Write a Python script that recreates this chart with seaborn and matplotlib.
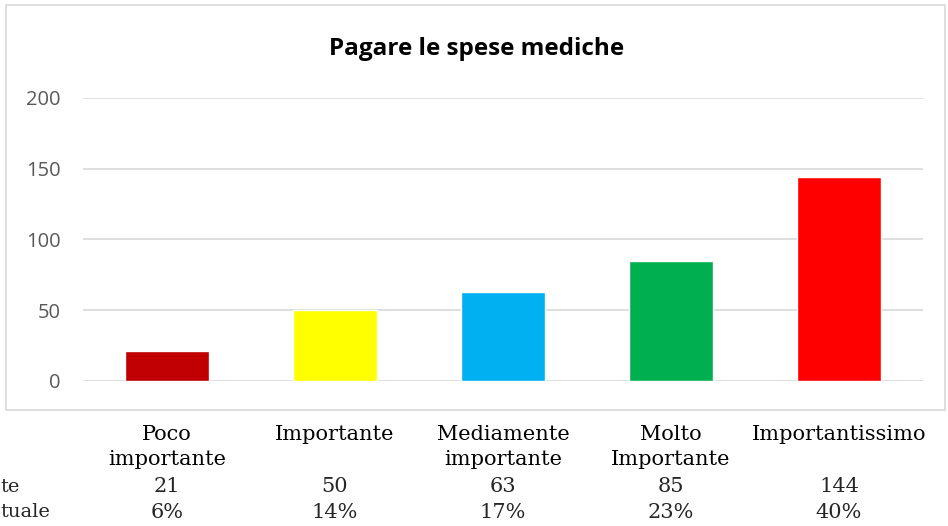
import matplotlib
matplotlib.use("Agg")
import matplotlib.pyplot as plt
import matplotlib.transforms as mtransforms
from matplotlib.patches import Rectangle
import seaborn as sns
import pandas as pd

categorie = ["Poco\nimportante", "Importante", "Mediamente\nimportante",
             "Molto\nImportante", "Importantissimo"]
valori = [21, 50, 63, 85, 144]
percentuali = ["6%", "14%", "17%", "23%", "40%"]
colori = ["#C00000", "#FFFF00", "#00B0F0", "#00B050", "#FF0000"]
righe = ["te", "tuale"]

df = pd.DataFrame({"categoria": categorie, "valore": valori})

sns.set_style("white")
fig = plt.figure(figsize=(9.48, 5.26), dpi=100)

# cornice del grafico
fig.patches.append(Rectangle((0.006, 0.221), 0.991, 0.769, transform=fig.transFigure,
                             fill=False, edgecolor="#D9D9D9", linewidth=1.2))

ax = fig.add_axes([0.0876, 0.2757, 0.886, 0.538])
sns.barplot(data=df, x="categoria", y="valore", hue="categoria",
            palette=colori, legend=False, width=0.5, saturation=1, ax=ax)

ax.set_ylim(0, 200)
ax.set_xlim(-0.5, 4.5)
ax.set_yticks([0, 50, 100, 150, 200])
ax.yaxis.grid(True, color="#D9D9D9", linewidth=1.2)
ax.set_axisbelow(True)
for s in ax.spines.values():
    s.set_visible(False)
ax.tick_params(axis="y", length=0, pad=16, labelsize=14.5, labelcolor="#595959")
for t in ax.get_yticklabels():
    t.set_fontfamily("Open Sans")
ax.set_xticks([])
ax.set_xlabel("")
ax.set_ylabel("")

fig.text(477 / 948, 1 - 49 / 526, "Pagare le spese mediche", ha="center", va="center",
         fontsize=17.5, fontweight="bold", family="Open Sans", color="black")

# tabella dati sotto il grafico
trans = mtransforms.blended_transform_factory(ax.transData, fig.transFigure)
serif = "DejaVu Serif"
for i, (cat, v, p) in enumerate(zip(categorie, valori, percentuali)):
    ax.text(i, 1 - 425 / 526, cat, transform=trans, ha="center", va="top",
            fontsize=15, family=serif, color="black", linespacing=1.38)
    ax.text(i, 1 - 487 / 526, str(v), transform=trans, ha="center", va="center",
            fontsize=15, family=serif)
    ax.text(i, 1 - 512 / 526, p, transform=trans, ha="center", va="center",
            fontsize=15, family=serif)

fig.text(0.0, 1 - 487 / 526, righe[0], ha="left", va="center", fontsize=14, family=serif)
fig.text(0.0, 1 - 512 / 526, righe[1], ha="left", va="center", fontsize=14, family=serif)

fig.savefig("out.png", dpi=100)
